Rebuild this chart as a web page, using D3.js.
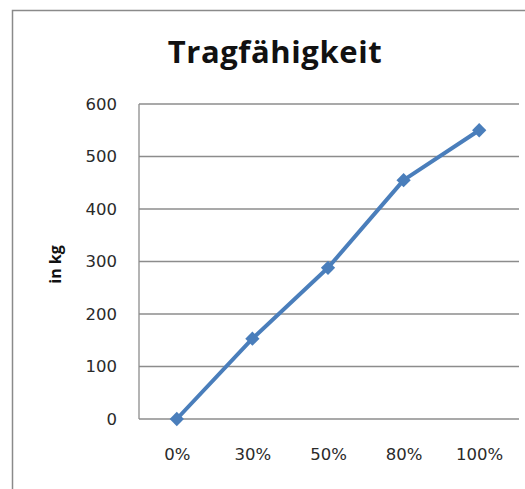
<!DOCTYPE html>
<html>
<head>
<meta charset="utf-8">
<script src="https://cdn.jsdelivr.net/npm/d3@7"></script>
<style>
  body { margin: 0; background: #fff; }
</style>
</head>
<body>
<div id="chart"></div>
<script>
const width = 525, height = 489;
const margin = {top: 104, right: 6, bottom: 70, left: 139};

// Data
const categories = ['0%', '30%', '50%', '80%', '100%'];
const loadKg = [0, 153, 288, 455, 550];
const yTicks = [0, 100, 200, 300, 400, 500, 600];

const svg = d3.select('#chart').append('svg')
    .attr('width', width)
    .attr('height', height);

// chart frame (runs off the right and bottom edges)
svg.append('rect')
    .attr('x', 12.5).attr('y', 10.5)
    .attr('width', width).attr('height', height)
    .attr('fill', '#fff')
    .attr('stroke', '#8a8a8a')
    .attr('stroke-width', 1.5);

const x = d3.scalePoint()
    .domain(categories)
    .range([margin.left, width - margin.right - 2])
    .padding(0.5);

const y = d3.scaleLinear()
    .domain([0, 600])
    .range([height - margin.bottom, margin.top]);

// gridlines
svg.append('g')
    .selectAll('line')
    .data(yTicks)
    .enter().append('line')
    .attr('x1', margin.left)
    .attr('x2', width - margin.right)
    .attr('y1', d => y(d))
    .attr('y2', d => y(d))
    .attr('stroke', '#8c8c8c')
    .attr('stroke-width', 1.3);

// left axis line
svg.append('line')
    .attr('x1', margin.left).attr('x2', margin.left)
    .attr('y1', y(600)).attr('y2', y(0))
    .attr('stroke', '#8c8c8c')
    .attr('stroke-width', 1.3);

// y tick labels
const yAxis = svg.append('g')
    .attr('transform', `translate(${margin.left},0)`)
    .call(d3.axisLeft(y).tickValues(yTicks).tickSize(0).tickPadding(22));
yAxis.select('.domain').remove();
yAxis.selectAll('text')
    .attr('font-family', 'DejaVu Sans')
    .attr('font-size', 16.5)
    .attr('fill', '#2a2a2a');

// x tick labels
const xAxis = svg.append('g')
    .attr('transform', `translate(0,${y(0)})`)
    .call(d3.axisBottom(x).tickSize(0).tickPadding(29));
xAxis.select('.domain').remove();
xAxis.selectAll('text')
    .attr('font-family', 'DejaVu Sans')
    .attr('font-size', 16.5)
    .attr('fill', '#2a2a2a');

// title
svg.append('text')
    .attr('x', 275)
    .attr('y', 63)
    .attr('text-anchor', 'middle')
    .attr('font-family', 'Open Sans')
    .attr('font-weight', 'bold')
    .attr('font-size', 31)
    .attr('letter-spacing', 0.6)
    .attr('fill', '#111')
    .text('Tragfähigkeit');

// y axis label
svg.append('text')
    .attr('transform', `translate(61,${y(300) + 3}) rotate(-90)`)
    .attr('text-anchor', 'middle')
    .attr('font-family', 'Open Sans')
    .attr('font-weight', 'bold')
    .attr('font-size', 16)
    .attr('fill', '#111')
    .text('in kg');

// series line
const line = d3.line()
    .x((d, i) => x(categories[i]))
    .y(d => y(d));

svg.append('path')
    .datum(loadKg)
    .attr('fill', 'none')
    .attr('stroke', '#4a7ebb')
    .attr('stroke-width', 4)
    .attr('stroke-linejoin', 'round')
    .attr('d', line);

// diamond markers
svg.append('g')
    .selectAll('path')
    .data(loadKg)
    .enter().append('path')
    .attr('transform', (d, i) => `translate(${x(categories[i])},${y(d)})`)
    .attr('d', d3.symbol().type(d3.symbolDiamond2).size(130))
    .attr('fill', '#4a7ebb');
</script>
</body>
</html>
